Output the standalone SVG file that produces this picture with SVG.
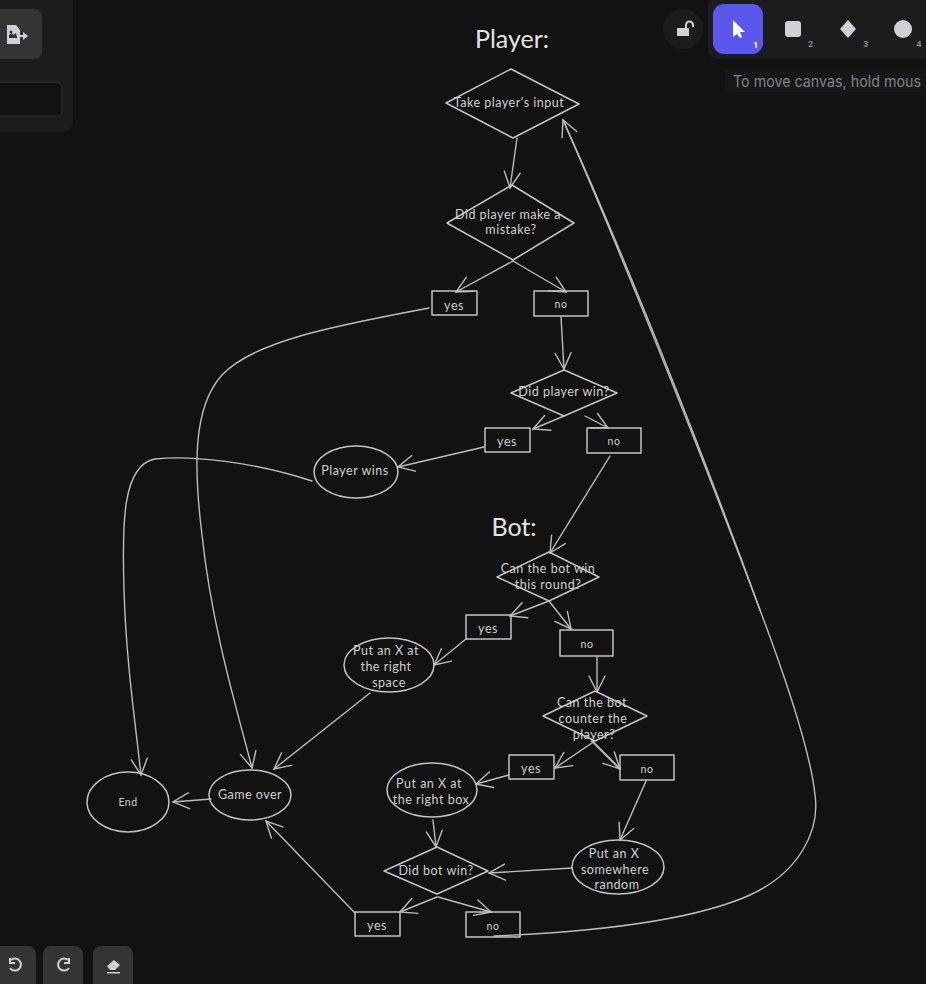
<svg xmlns="http://www.w3.org/2000/svg" width="926" height="984" viewBox="0 0 926 984">
<style>
.s{fill:none;stroke:#c4c4c4;stroke-width:1.5;stroke-linejoin:round}
.c{fill:none;stroke:#bdbdbd;stroke-width:1.4;stroke-linecap:round}
.t{font-family:"Lato","Liberation Sans",sans-serif;fill:#d0d0d0;text-anchor:middle;font-size:12.5px;letter-spacing:.5px}
.big{font-size:25px;fill:#e4e4e4;letter-spacing:0}
.sm{font-size:10.5px}
.p{fill:#1c1c1e}
.b{fill:#343436}
.i{fill:#ced1d6}
.n{font-family:"Inter","Liberation Sans",sans-serif;font-size:8px;font-weight:700;fill:#8a8d93;text-anchor:middle}
</style>
<defs>
<marker id="a" markerUnits="userSpaceOnUse" markerWidth="30" markerHeight="30" refX="20" refY="15" orient="auto" viewBox="0 0 30 30"><path d="M4,7 L20,15 L4,23" fill="none" stroke="#bdbdbd" stroke-width="1.4" stroke-linecap="round"/></marker>
</defs>
<rect width="926" height="984" fill="#121212"/>

<g id="ui-left">
<rect x="-12" y="-12" width="85" height="144" rx="10" class="p"/>
<rect x="-10" y="9" width="52" height="50" rx="8" class="b"/>
<path class="i" d="M7,25h9l4,5v5h3v-3l5,4-5,4v-3h-3v7H7z"/>
<path d="M9,35l3,-2 1,2 3,-2 1,4v1h-8z" fill="#343436"/>
<circle cx="11" cy="32" r="1.500" fill="#343436"/>
<rect x="-10" y="82.500" width="72" height="33.500" rx="5" fill="#121212" stroke="#2e2e30"/>
</g>
<g id="ui-lock">
<circle cx="683" cy="29" r="20" class="p"/>
<path class="i" d="M677,28h12v8h-12z"/>
<path d="M686,28v-3a3.500,3.500 0 0 1 7,0v2" fill="none" stroke="#ced1d6" stroke-width="2"/>
</g>
<g id="ui-toolbar">
<rect x="708" y="-4" width="230" height="63" rx="9" class="p"/>
<rect x="713" y="4" width="50" height="50" rx="11" fill="#5b57ee"/>
<path d="M733,20l0,17 4,-3 3,4 2,-1 -2,-5 5,0z" fill="#fff"/>
<text x="755.500" y="48" class="n" style="fill:#fff">1</text>
<rect x="785" y="21" width="16" height="16" rx="3" class="i"/>
<text x="810.500" y="47" class="n">2</text>
<path class="i" d="M848,20l8,9 -8,9 -8,-9z"/>
<text x="865.500" y="47" class="n">3</text>
<circle cx="903" cy="29" r="9" class="i"/>
<text x="919" y="47" class="n">4</text>
</g>
<g id="ui-hint">
<rect x="725" y="68" width="215" height="27" rx="6" fill="#17171a"/>
<text x="733" y="87" font-family="Inter,'Liberation Sans',sans-serif" font-size="15.500" fill="#80838a" textLength="188" lengthAdjust="spacingAndGlyphs">To move canvas, hold mous</text>
</g>
<g id="ui-history">
<rect x="-8" y="946" width="44" height="46" rx="8" class="b"/>
<rect x="43" y="946" width="40" height="46" rx="8" class="b"/>
<rect x="93" y="946" width="40" height="46" rx="8" class="b"/>
<path d="M11,960a6,6 0 1 1 -1,8M10,958v5h5" fill="none" stroke="#ced1d6" stroke-width="2"/>
<path d="M68,960a6,6 0 1 0 1,8M69,958v5h-5" fill="none" stroke="#ced1d6" stroke-width="2"/>
<path class="i" d="M107,966l7,-6 6,5 -5,5h-5zM107,972h13v1.500h-13z"/>
</g>

<g id="connectors">
<path class="c" marker-end="url(#a)" d="M517,138L510,188"/>
<path class="c" marker-end="url(#a)" d="M513,261L456,292"/>
<path class="c" marker-end="url(#a)" d="M513,261L566,292"/>
<path class="c" marker-end="url(#a)" d="M561,317L564,369"/>
<path class="c" marker-end="url(#a)" d="M564,416L533,429"/>
<path class="c" marker-end="url(#a)" d="M585,416L608,428"/>
<path class="c" marker-end="url(#a)" d="M484,447L398,467"/>
<path class="c" marker-end="url(#a)" d="M610,456L550,553"/>
<path class="c" marker-end="url(#a)" d="M549,601L510,616"/>
<path class="c" marker-end="url(#a)" d="M549,601L571,629"/>
<path class="c" marker-end="url(#a)" d="M597,657L597,692"/>
<path class="c" marker-end="url(#a)" d="M466,639L434,665"/>
<path class="c" marker-end="url(#a)" d="M370,693L274,769"/>
<path class="c" marker-end="url(#a)" d="M595,741L555,768"/>
<path class="c" style="stroke-width:2" marker-end="url(#a)" d="M592,741L620,769"/>
<path class="c" marker-end="url(#a)" d="M509,775L476,784"/>
<path class="c" marker-end="url(#a)" d="M646,781L620,840"/>
<path class="c" marker-end="url(#a)" d="M433,820L436,847"/>
<path class="c" marker-end="url(#a)" d="M572,868L489,873"/>
<path class="c" marker-end="url(#a)" d="M437,897L400,912"/>
<path class="c" marker-end="url(#a)" d="M438,897L491,912"/>
<path class="c" marker-end="url(#a)" d="M355,913L266,821"/>
<path class="c" marker-end="url(#a)" d="M211,799L173,802"/>
<path class="c" marker-end="url(#a)" d="M429,308C340,325 255,340 222,375C192,408 194,470 202,535C212,630 240,720 252,768"/>
<path class="c" marker-end="url(#a)" d="M312,481C255,462 190,455 155,459C122,465 122,525 124,590C126,660 135,720 141,775"/>
<path class="c" marker-end="url(#a)" d="M494,936C590,932 690,922 750,895C800,872 820,830 815,795C811,755 790,690 760,610C700,450 620,250 563,120"/>
<path class="c" d="M760,610C702,450 622,250 563,120"/>
</g>

<g id="title-player"><text class="t big" x="512" y="48">Player:</text></g>
<g id="n1"><path class="s" d="M446,103L511,69L579,104L513,138Z"/><text class="t" x="509" y="107">Take player's input</text></g>
<g id="n2"><path class="s" d="M447,223L512,185L574,223L513,260Z"/><text class="t" x="508" y="219">Did player make a</text><text class="t" x="511" y="234">mistake?</text></g>
<g id="n3"><rect class="s" x="432" y="291" width="45" height="24"/><text class="t" x="454" y="310">yes</text></g>
<g id="n4"><rect class="s" x="534" y="291" width="54" height="25"/><text class="t sm" x="561" y="308">no</text></g>
<g id="n5"><path class="s" d="M511,393L564,370L617,393L564,416Z"/><text class="t" x="564" y="396">Did player win?</text></g>
<g id="n6"><rect class="s" x="485" y="428" width="45" height="24"/><text class="t" x="507" y="446">yes</text></g>
<g id="n7"><rect class="s" x="587" y="428" width="54" height="25"/><text class="t sm" x="614" y="445">no</text></g>
<g id="n8"><ellipse class="s" cx="356" cy="472" rx="42" ry="26"/><text class="t" x="355" y="475">Player wins</text></g>
<g id="title-bot"><text class="t big" x="514" y="536">Bot:</text></g>
<g id="n9"><path class="s" d="M497,577L549,552L599,577L549,601Z"/><text class="t" x="548" y="573">Can the bot win</text><text class="t" x="548" y="589">this round?</text></g>
<g id="n10"><rect class="s" x="466" y="615" width="45" height="24"/><text class="t" x="488" y="633">yes</text></g>
<g id="n11"><rect class="s" x="560" y="630" width="53" height="26"/><text class="t sm" x="587" y="648">no</text></g>
<g id="n12"><ellipse class="s" cx="389" cy="665" rx="45" ry="27"/><text class="t" x="386" y="655">Put an X at</text><text class="t" x="386" y="671">the right</text><text class="t" x="389" y="687">space</text></g>
<g id="n13"><path class="s" d="M543,716L595,691L647,716L595,741Z"/><text class="t" x="592" y="707">Can the bot</text><text class="t" x="593" y="723">counter the</text><text class="t" x="594" y="739">player?</text></g>
<g id="n14"><rect class="s" x="509" y="755" width="45" height="24"/><text class="t" x="531" y="773">yes</text></g>
<g id="n15"><rect class="s" x="620" y="755" width="54" height="25"/><text class="t sm" x="647" y="773">no</text></g>
<g id="n16"><ellipse class="s" cx="432" cy="790" rx="45" ry="27"/><text class="t" x="429" y="788">Put an X at</text><text class="t" x="431" y="804">the right box</text></g>
<g id="n17"><ellipse class="s" cx="618" cy="867" rx="46" ry="27"/><text class="t" x="614" y="858">Put an X</text><text class="t" x="615" y="874">somewhere</text><text class="t" x="617" y="889">random</text></g>
<g id="n18"><path class="s" d="M384,871L437,847L488,871L437,894Z"/><text class="t" x="436" y="875">Did bot win?</text></g>
<g id="n19"><rect class="s" x="355" y="912" width="45" height="24"/><text class="t" x="377" y="930">yes</text></g>
<g id="n20"><rect class="s" x="466" y="912" width="54" height="25"/><text class="t sm" x="493" y="930">no</text></g>
<g id="n21"><ellipse class="s" cx="250" cy="795" rx="41" ry="25"/><text class="t" x="250" y="799">Game over</text></g>
<g id="n22"><ellipse class="s" cx="128" cy="802" rx="41" ry="30"/><text class="t sm" x="128" y="806">End</text></g>
</svg>
